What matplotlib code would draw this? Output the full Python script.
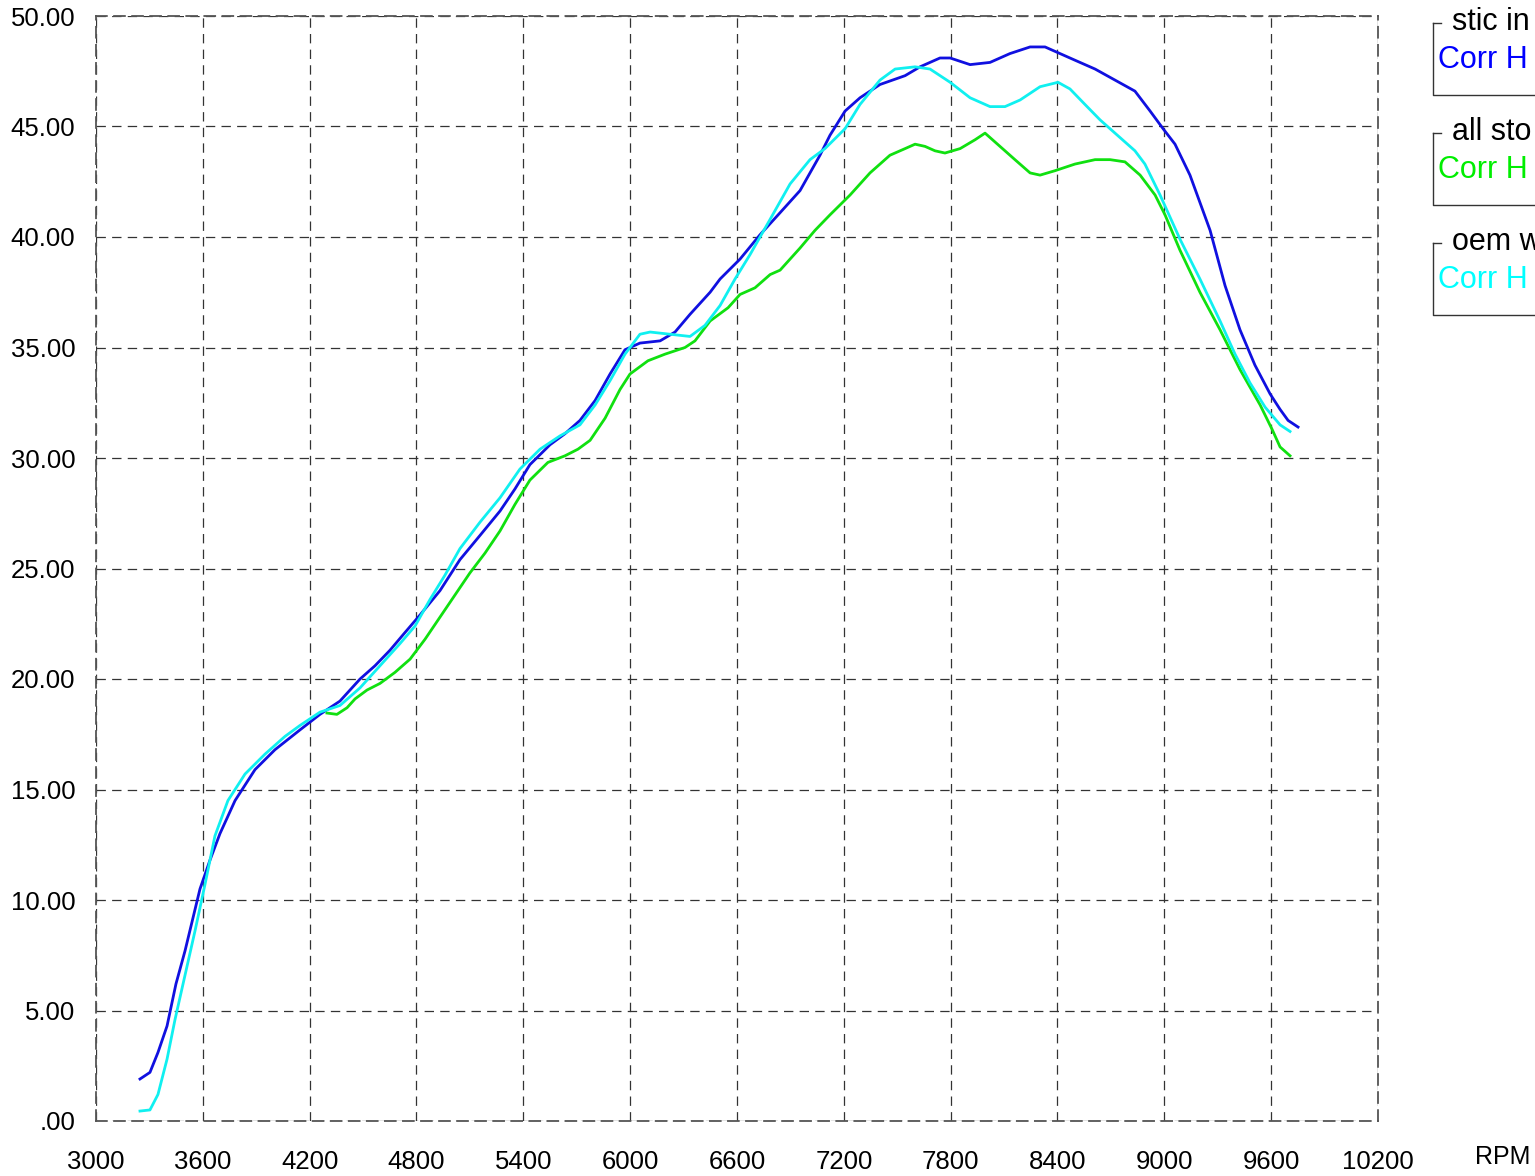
import matplotlib.pyplot as plt
from matplotlib.lines import Line2D

plt.rcParams['font.family'] = ['Liberation Sans', 'DejaVu Sans']

# run 1 (blue)
rpm_a = [3247, 3303, 3348, 3399, 3449, 3500, 3584, 3640, 3696, 3781, 3893, 4005, 4146, 4258,
         4370, 4483, 4567, 4651, 4735, 4820, 4932, 5044, 5157, 5269, 5353, 5437, 5550, 5634,
         5718, 5803, 5887, 5971, 6055, 6168, 6252, 6336, 6449, 6505, 6617, 6729, 6842, 6954,
         7066, 7122, 7207, 7291, 7403, 7544, 7628, 7740, 7797, 7909, 8021, 8133, 8246, 8330,
         8414, 8498, 8611, 8723, 8835, 8920, 8993, 9060, 9144, 9257, 9341, 9425, 9509, 9594,
         9650, 9695, 9751]
hp_a = [1.9, 2.2, 3.1, 4.3, 6.2, 7.7, 10.5, 11.8, 13.0, 14.5, 15.9, 16.8, 17.7, 18.4,
        19.0, 20.0, 20.6, 21.3, 22.1, 22.9, 24.0, 25.4, 26.5, 27.6, 28.6, 29.7, 30.6, 31.1,
        31.7, 32.6, 33.8, 34.9, 35.2, 35.3, 35.7, 36.5, 37.5, 38.1, 39.0, 40.1, 41.1, 42.1,
        43.7, 44.6, 45.7, 46.3, 46.9, 47.3, 47.7, 48.1, 48.1, 47.8, 47.9, 48.3, 48.6, 48.6,
        48.3, 48.0, 47.6, 47.1, 46.6, 45.7, 44.9, 44.2, 42.8, 40.3, 37.8, 35.8, 34.2, 32.9,
        32.2, 31.7, 31.4]

# run 2 (green)
rpm_b = [4297, 4353, 4410, 4455, 4522, 4595, 4679, 4764, 4848, 4932, 5016, 5100, 5185, 5269,
         5353, 5437, 5538, 5634, 5707, 5775, 5859, 5943, 5999, 6100, 6196, 6308, 6364, 6449,
         6550, 6617, 6701, 6786, 6842, 6954, 7038, 7122, 7235, 7347, 7459, 7544, 7600, 7656,
         7712, 7768, 7853, 7937, 7993, 8077, 8161, 8246, 8302, 8386, 8498, 8611, 8695, 8779,
         8864, 8948, 9004, 9088, 9200, 9313, 9425, 9538, 9605, 9650, 9706]
hp_b = [18.46, 18.4, 18.7, 19.1, 19.5, 19.8, 20.3, 20.9, 21.8, 22.8, 23.8, 24.8, 25.7, 26.7,
        27.9, 29.0, 29.8, 30.1, 30.4, 30.8, 31.8, 33.1, 33.8, 34.4, 34.7, 35.0, 35.3, 36.2,
        36.8, 37.4, 37.7, 38.3, 38.5, 39.5, 40.3, 41.0, 41.9, 42.9, 43.7, 44.0, 44.2, 44.1,
        43.9, 43.8, 44.0, 44.4, 44.7, 44.1, 43.5, 42.9, 42.8, 43.0, 43.3, 43.5, 43.5, 43.4,
        42.8, 41.9, 41.0, 39.4, 37.5, 35.8, 34.0, 32.4, 31.3, 30.5, 30.1]

# run 3 (cyan)
rpm_c = [3247, 3303, 3348, 3399, 3444, 3500, 3556, 3612, 3668, 3741, 3837, 3949, 4061, 4146,
         4258, 4370, 4483, 4595, 4707, 4792, 4876, 4960, 5044, 5157, 5269, 5381, 5494, 5606,
         5718, 5803, 5887, 5971, 6055, 6112, 6224, 6336, 6420, 6505, 6589, 6673, 6786, 6898,
         7010, 7094, 7207, 7291, 7403, 7488, 7600, 7684, 7797, 7909, 8021, 8105, 8190, 8302,
         8403, 8470, 8554, 8639, 8751, 8835, 8891, 8976, 9088, 9200, 9313, 9397, 9481, 9566,
         9650, 9706]
hp_c = [0.45, 0.5, 1.2, 2.8, 4.6, 6.6, 8.6, 10.7, 12.9, 14.5, 15.7, 16.6, 17.4, 17.9,
        18.5, 18.8, 19.6, 20.6, 21.6, 22.4, 23.6, 24.7, 25.9, 27.1, 28.2, 29.5, 30.4, 31.0,
        31.5, 32.4, 33.5, 34.7, 35.6, 35.7, 35.6, 35.5, 36.0, 36.9, 38.1, 39.2, 40.8, 42.4,
        43.5, 44.0, 44.9, 46.0, 47.1, 47.6, 47.7, 47.6, 47.0, 46.3, 45.9, 45.9, 46.2, 46.8,
        47.0, 46.7, 46.0, 45.3, 44.5, 43.9, 43.3, 41.9, 39.9, 38.1, 36.2, 34.7, 33.4, 32.3,
        31.5, 31.2]

x_ticks = list(range(3000, 10201, 600))
y_ticks = [0, 5, 10, 15, 20, 25, 30, 35, 40, 45, 50]
y_labels = ['.00'] + ['%.2f' % v for v in y_ticks[1:]]

# legend panels are cut by the right edge of the image, only the visible part is kept
legend_titles = ['stic in', 'all sto', 'oem w']
legend_labels = ['Corr H', 'Corr H', 'Corr H']
colors = ['#1010e0', '#10e010', '#10f0f0']
text_colors = ['#0000ff', '#00ee00', '#00ffff']

fig = plt.figure(figsize=(15.35, 11.76), dpi=100)
W, H = 1535.0, 1176.0
ax = fig.add_axes([96 / W, (H - 1121) / H, (1378 - 96) / W, (1121 - 16) / H])

ax.plot(rpm_a, hp_a, color=colors[0], lw=2.0, zorder=3)
ax.plot(rpm_b, hp_b, color=colors[1], lw=2.0, zorder=3)
ax.plot(rpm_c, hp_c, color=colors[2], lw=2.0, zorder=3)

ax.set_xlim(3000, 10200)
ax.set_ylim(0, 50)
ax.set_xticks(x_ticks)
ax.set_yticks(y_ticks)
ax.set_yticklabels(y_labels)
ax.tick_params(length=0, labelsize=18.5, colors='black')
ax.tick_params(axis='x', pad=21)
ax.tick_params(axis='y', pad=15)
ax.grid(True, color='#333333', linestyle=(0, (7.5, 5)), linewidth=0.9)
for s in ax.spines.values():
    s.set_linestyle((0, (6, 4)))
    s.set_color('#555555')
    s.set_linewidth(1.3)

fig.text(1475 / W, 1 - 1157 / H, 'RPM', fontsize=18, va='center', ha='left')

# group-box style legend panels on the right edge
for i in range(3):
    top = 23 + 110 * i
    bot = 95 + 110 * i
    fig.add_artist(Line2D([1433 / W, 1433 / W, 1.2], [1 - top / H, 1 - bot / H, 1 - bot / H],
                          color='#333333', lw=1.0, transform=fig.transFigure))
    fig.add_artist(Line2D([1433 / W, 1441 / W], [1 - top / H, 1 - top / H],
                          color='#333333', lw=1.0, transform=fig.transFigure))
    fig.text(1452 / W, 1 - (top - 1) / H, legend_titles[i], fontsize=22, va='center', ha='left')
    fig.text(1438 / W, 1 - (top + 37) / H, legend_labels[i], fontsize=22,
             va='center', ha='left', color=text_colors[i])

fig.savefig('out.png', dpi=100)
